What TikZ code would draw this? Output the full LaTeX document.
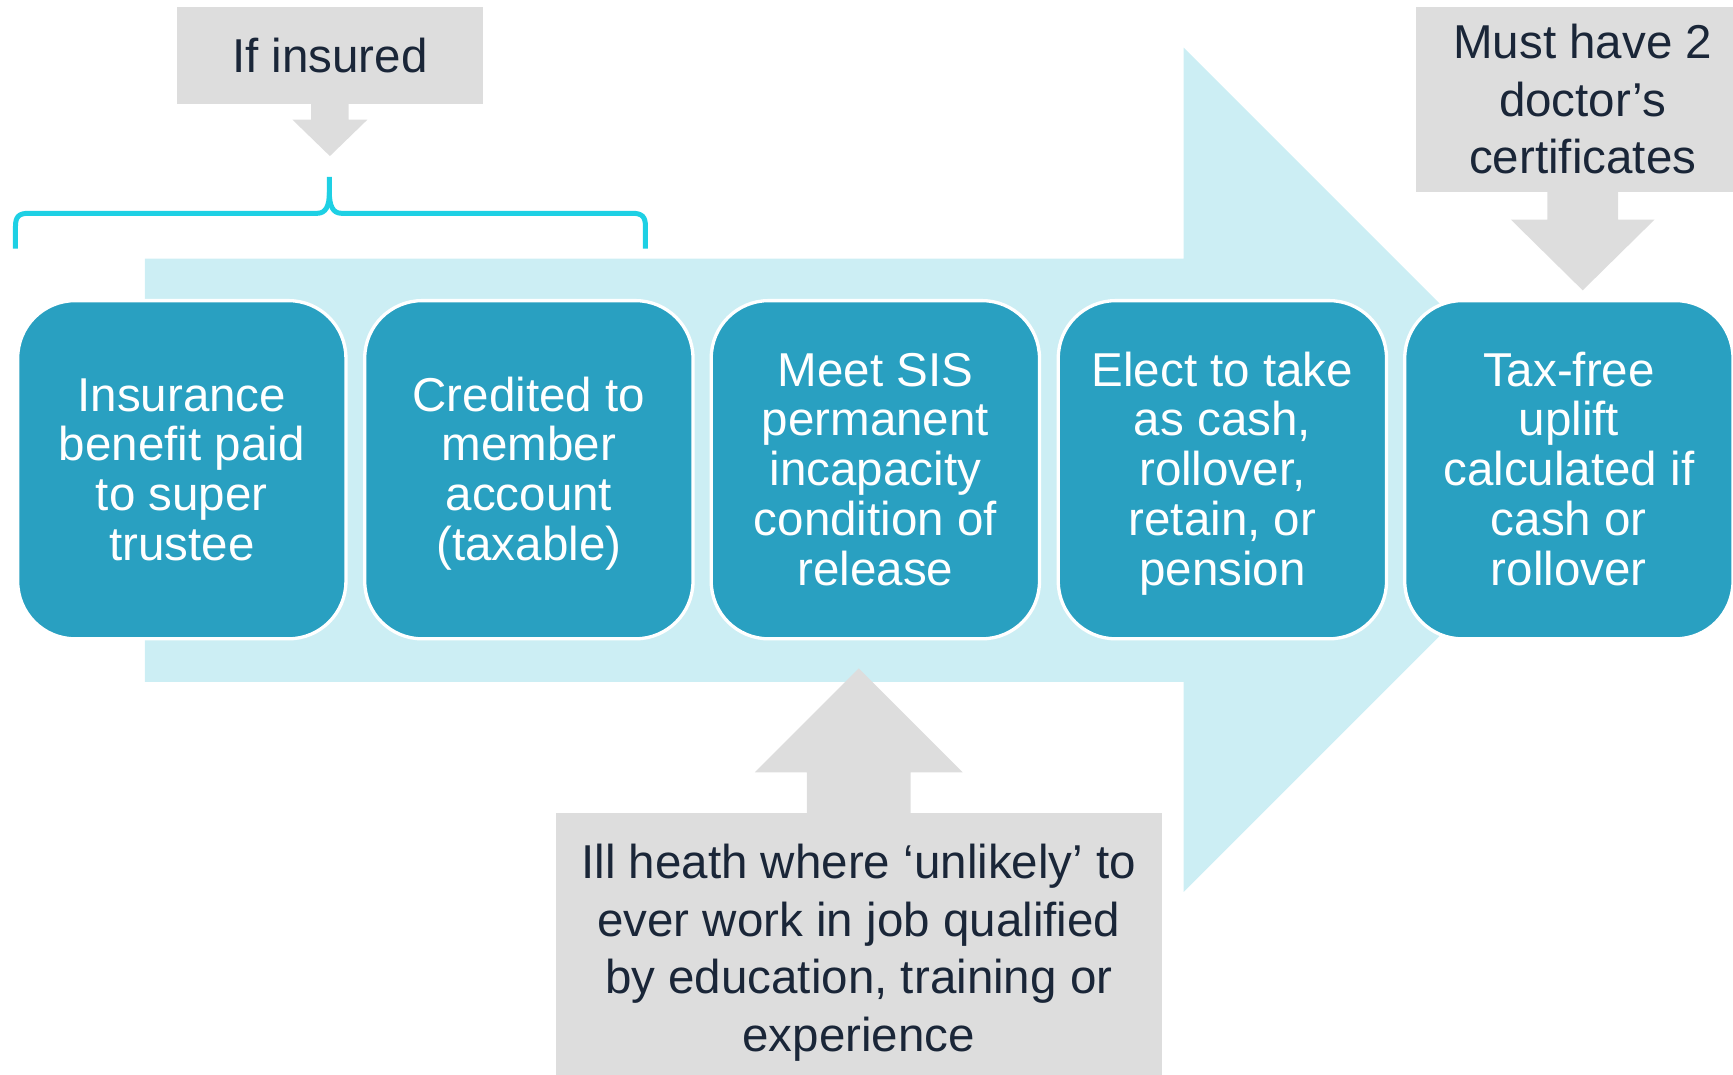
\documentclass[tikz,border=0pt]{standalone}
\usepackage{fontspec}
\setmainfont{Liberation Sans}
\usetikzlibrary{calc}
\definecolor{flowbg}{RGB}{204,238,244}
\definecolor{stage}{RGB}{41,160,193}
\definecolor{note}{RGB}{221,221,221}
\definecolor{ink}{RGB}{26,38,56}
\definecolor{bracecol}{RGB}{30,208,228}
% fixed height of the first line and depth of the last line of stage texts,
% so that every stage text sits at the same height
\newcommand\stgtop{\rule{0pt}{38pt}}
\newcommand\stgbot{\rule[-9.2pt]{0pt}{9.2pt}}
\begin{document}
\begin{tikzpicture}[x=1pt,y=-1pt,
  stagebox/.style={draw=white, line width=3pt, fill=stage, rounded corners=52pt,
    minimum width=297pt, minimum height=306pt, text=white, align=center,
    inner sep=0pt, font=\fontsize{43}{45}\selectfont},
  notebox/.style={fill=note, text=ink, align=center, inner sep=0pt,
    font=\fontsize{43}{52}\selectfont},
  bracepath/.style={draw=bracecol, line width=4.5pt, line cap=butt, line join=round}]
\useasboundingbox (0,0) rectangle (1568,972);

% wide background arrow of the process
\fill[flowbg] (131,234) -- (1071,234) -- (1071,43) -- (1453,425)
  -- (1071,807) -- (1071,617) -- (131,617) -- cycle;

% process stages
\node[stagebox] (b1) at (164.5,425) {\stgtop Insurance\\benefit paid\\to super\\trustee\stgbot};
\node[stagebox] (b2) at (478.5,425) {\stgtop Credited to\\member\\account\\(taxable)\stgbot};
\node[stagebox] (b3) at (792,425) {\stgtop Meet SIS\\permanent\\incapacity\\condition of\\release\stgbot};
\node[stagebox] (b4) at (1106,425) {\stgtop Elect to take\\as cash,\\rollover,\\retain, or\\pension\stgbot};
\node[stagebox] (b5) at (1419.5,425) {\stgtop Tax-free\\uplift\\calculated if\\cash or\\rollover\stgbot};

% callout: if insured
\node[notebox, minimum width=277pt, minimum height=88pt] (c1) at (298.5,50) {If insured};
\fill[note] ($(c1.south)+(-17,-1)$) -- ($(c1.south)+(-17,14)$) -- ($(c1.south)+(-34,14)$)
  -- ($(c1.south)+(0,47)$) -- ($(c1.south)+(34,14)$) -- ($(c1.south)+(17,14)$)
  -- ($(c1.south)+(17,-1)$) -- cycle;

% brace over the first two stages
\draw[bracepath] (14,225) -- (14,205) .. controls (14,196) and (17,193) .. (26,193)
  -- (287,193) .. controls (295,193) and (298,186) .. (298,174) -- (298,160);
\draw[bracepath] (298,174) .. controls (298,186) and (301,193) .. (309,193)
  -- (572,193) .. controls (581,193) and (584,196) .. (584,205) -- (584,225);

% callout: doctor's certificates
\node[notebox, minimum width=302pt, minimum height=167pt] (c2) at (1432,90)
  {Must have 2\\doctor’s\\certificates};
\fill[note] ($(c2.south)+(-32,-1)$) -- ($(c2.south)+(-32,25)$) -- ($(c2.south)+(-65,25)$)
  -- ($(c2.south)+(0,89)$) -- ($(c2.south)+(65,25)$) -- ($(c2.south)+(32,25)$)
  -- ($(c2.south)+(32,-1)$) -- cycle;

% callout: ill health definition
\node[notebox, minimum width=548pt, minimum height=252pt] (c3) at (777,862)
  {Ill heath where ‘unlikely’ to\\ever work in job qualified\\by education, training or\\experience};
\fill[note] ($(c3.north)+(-47,1)$) -- ($(c3.north)+(-47,-37)$) -- ($(c3.north)+(-94,-37)$)
  -- ($(c3.north)+(0,-131)$) -- ($(c3.north)+(94,-37)$) -- ($(c3.north)+(47,-37)$)
  -- ($(c3.north)+(47,1)$) -- cycle;
\end{tikzpicture}
\end{document}
